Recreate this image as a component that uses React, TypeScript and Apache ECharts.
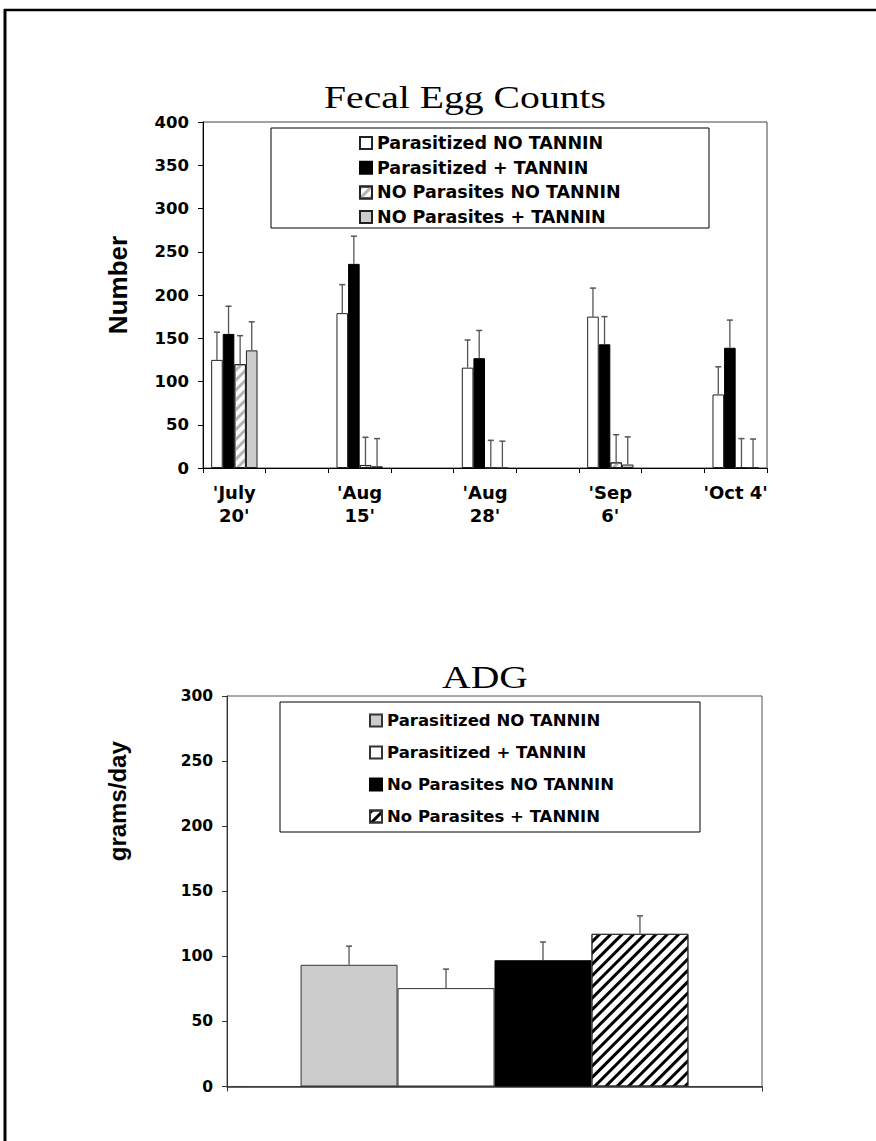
import React, { useEffect, useRef } from 'react';
import * as echarts from 'echarts';

// ---------- Fecal Egg Counts data ----------
const fecalDates = ["'July\n20'", "'Aug\n15'", "'Aug\n28'", "'Sep\n6'", "'Oct 4'"];
const fecalNames = ['Parasitized NO TANNIN', 'Parasitized + TANNIN', 'NO Parasites NO TANNIN', 'NO Parasites + TANNIN'];
const fecalParasitizedNoTannin = [125, 179, 116, 175, 85];
const fecalParasitizedTannin = [155, 236, 127, 143, 139];
const fecalNoParasitesNoTannin = [120, 3.5, 0, 6.5, 1];
const fecalNoParasitesTannin = [136, 2, 0, 4, 0.5];
const fecalErrParasitizedNoTannin = [32, 33, 32, 33, 32];
const fecalErrParasitizedTannin = [32, 32, 32, 32, 32];
const fecalErrNoParasitesNoTannin = [33, 32, 32, 32, 33];
const fecalErrNoParasitesTannin = [33, 32, 31, 32, 33];
const fecalYMax = 400;
const fecalYStep = 50;

// ---------- ADG data ----------
const adgNames = ['Parasitized NO TANNIN', 'Parasitized + TANNIN', 'No Parasites NO TANNIN', 'No Parasites + TANNIN'];
const adgValues = [93.5, 75.6, 97, 117.3];
const adgErrors = [14.3, 14.6, 14, 13.8];
const adgYMax = 300;
const adgYStep = 50;

const SANS = 'DejaVu Sans';
const ARIAL = 'Liberation Sans, Arial, sans-serif';
const SERIF = 'Liberation Serif, Times New Roman, serif';

function errorSeries(points: number[][], pos: number, n: number, gap: number, color: string) {
  return {
    type: 'custom',
    silent: true,
    z: 5,
    data: points,
    encode: { x: 0, y: 1 },
    renderItem: (params: any, api: any) => {
      const x = api.value(0);
      const v = api.value(1);
      const e = api.value(2);
      const p0 = api.coord([x, v]);
      const p1 = api.coord([x, v + e]);
      const band = api.size([1, 0])[0];
      const bw = (band * (1 - gap)) / n;
      const cx = p0[0] + (pos - (n - 1) / 2) * bw;
      return {
        type: 'group',
        children: [
          { type: 'line', shape: { x1: cx, y1: p0[1], x2: cx, y2: p1[1] }, style: { stroke: color, lineWidth: 1.3 } },
          { type: 'line', shape: { x1: cx - 3, y1: p1[1], x2: cx + 3, y2: p1[1] }, style: { stroke: color, lineWidth: 1.5 } },
        ],
      };
    },
  };
}

function buildFecalOption() {
  // categories with an empty slot between consecutive dates
  const categories: string[] = [];
  const idx: number[] = [];
  fecalDates.forEach((d, i) => {
    idx.push(categories.length);
    categories.push(d);
    if (i < fecalDates.length - 1) categories.push('');
  });
  const expand = (vals: number[]) => {
    const out: (number | null)[] = categories.map(() => null);
    vals.forEach((v, i) => (out[idx[i]] = v));
    return out;
  };
  const gap = 0.26;
  const values = [fecalParasitizedNoTannin, fecalParasitizedTannin, fecalNoParasitesNoTannin, fecalNoParasitesTannin];
  const errs = [fecalErrParasitizedNoTannin, fecalErrParasitizedTannin, fecalErrNoParasitesNoTannin, fecalErrNoParasitesTannin];
  const styles: any[] = [
    { color: '#ffffff', borderColor: '#222', borderWidth: 1 },
    { color: '#000000', borderColor: '#000', borderWidth: 1 },
    {
      color: '#ffffff', borderColor: '#222', borderWidth: 1,
      decal: { symbol: 'rect', symbolSize: 1, dashArrayX: [1, 0], dashArrayY: [2.5, 4], rotation: -Math.PI / 4, color: '#b4b4b4', backgroundColor: '#ffffff' },
    },
    { color: '#cccccc', borderColor: '#222', borderWidth: 1 },
  ];
  const bars = values.map((vals, s) => ({
    type: 'bar',
    name: fecalNames[s],
    data: expand(vals),
    barGap: '0%',
    barCategoryGap: gap * 100 + '%',
    itemStyle: styles[s],
    z: 2,
  }));
  const errSeries = values.map((vals, s) =>
    errorSeries(vals.map((v, i) => [idx[i], v, errs[s][i]]), s, 4, gap, '#555')
  );
  return {
    animation: false,
    grid: { left: 203, top: 122, width: 564, height: 346, show: true, borderColor: '#444', borderWidth: 1, backgroundColor: 'transparent' },
    legend: {
      orient: 'vertical', left: 359, top: 134, padding: 0,
      itemWidth: 12, itemHeight: 12, itemGap: 6.7, icon: 'rect',
      data: fecalNames,
      textStyle: { fontFamily: SANS, fontWeight: 'bold', fontSize: 17.5, lineHeight: 16, color: '#000' },
      selectedMode: false,
    },
    xAxis: {
      type: 'category', data: categories,
      axisLine: { lineStyle: { color: '#000', width: 1 } },
      axisTick: { show: true, length: 5, lineStyle: { color: '#000' } },
      axisLabel: { interval: 0, margin: 13, fontFamily: SANS, fontWeight: 'bold', fontSize: 18, lineHeight: 23, color: '#000' },
    },
    yAxis: {
      type: 'value', min: 0, max: fecalYMax, interval: fecalYStep,
      name: 'Number', nameLocation: 'middle', nameGap: 72,
      nameTextStyle: { fontFamily: ARIAL, fontWeight: 'bold', fontSize: 26, color: '#000', padding: [0, 0, 0, 20] },
      axisLine: { show: true, lineStyle: { color: '#000', width: 1 } },
      axisTick: { show: true, length: 5, lineStyle: { color: '#000' } },
      axisLabel: { margin: 14, fontFamily: SANS, fontWeight: 'bold', fontSize: 16.5, color: '#000' },
      splitLine: { show: false },
    },
    graphic: [
      { type: 'line', shape: { x1: 4, y1: 10, x2: 876, y2: 10 }, style: { stroke: '#000', lineWidth: 2.5 } },
      { type: 'line', shape: { x1: 5, y1: 9, x2: 5, y2: 570 }, style: { stroke: '#000', lineWidth: 3 } },
      { type: 'text', x: 465, y: 97, scaleX: 1.24, style: { text: 'Fecal Egg Counts', font: `32px ${SERIF}`, fill: '#000', textAlign: 'center', textVerticalAlign: 'middle' } },
      { type: 'rect', z: 3, shape: { x: 271, y: 128, width: 438, height: 100 }, style: { fill: '#fff', stroke: '#000', lineWidth: 1 } },
    ],
    series: [...bars, ...errSeries],
  };
}

function buildAdgOption() {
  const gap = 0.275;
  const styles: any[] = [
    { color: '#cccccc', borderColor: '#333', borderWidth: 1 },
    { color: '#ffffff', borderColor: '#333', borderWidth: 1 },
    { color: '#000000', borderColor: '#000', borderWidth: 1 },
    {
      color: '#ffffff', borderColor: '#333', borderWidth: 1,
      decal: { symbol: 'rect', symbolSize: 1, dashArrayX: [1, 0], dashArrayY: [3, 5], rotation: -Math.PI / 4, color: '#000000', backgroundColor: '#ffffff' },
    },
  ];
  const bars = adgValues.map((v, s) => ({
    type: 'bar', name: adgNames[s], data: [v], barGap: '0%', barCategoryGap: gap * 100 + '%', itemStyle: styles[s], z: 2,
  }));
  const errSeries = adgValues.map((v, s) => errorSeries([[0, v, adgErrors[s]]], s, 4, gap, '#555'));
  return {
    animation: false,
    grid: { left: 227, top: 126, width: 535, height: 390.5, show: true, borderColor: '#555', borderWidth: 1 },
    legend: {
      orient: 'vertical', left: 369, top: 142, padding: 0,
      itemWidth: 12, itemHeight: 12, itemGap: 15, icon: 'rect',
      data: adgNames,
      textStyle: { fontFamily: SANS, fontWeight: 'bold', fontSize: 16.5, lineHeight: 16, color: '#000' },
      selectedMode: false,
    },
    xAxis: {
      type: 'category', data: [''],
      axisLine: { lineStyle: { color: '#333', width: 1.5 } },
      axisTick: { show: true, length: 5, lineStyle: { color: '#333' } },
      axisLabel: { show: false },
    },
    yAxis: {
      type: 'value', min: 0, max: adgYMax, interval: adgYStep,
      name: 'grams/day', nameLocation: 'middle', nameGap: 98,
      nameTextStyle: { fontFamily: ARIAL, fontWeight: 'bold', fontSize: 24, color: '#000', padding: [0, 0, 0, 180] },
      axisLine: { show: true, lineStyle: { color: '#333', width: 1 } },
      axisTick: { show: true, length: 5, lineStyle: { color: '#333' } },
      axisLabel: { margin: 14, fontFamily: SANS, fontWeight: 'bold', fontSize: 15.5, color: '#000' },
      splitLine: { show: false },
    },
    graphic: [
      { type: 'line', shape: { x1: 5, y1: 0, x2: 5, y2: 571 }, style: { stroke: '#000', lineWidth: 3 } },
      { type: 'text', x: 485, y: 107, scaleX: 1.24, style: { text: 'ADG', font: `32px ${SERIF}`, fill: '#000', textAlign: 'center', textVerticalAlign: 'middle' } },
      { type: 'rect', z: 3, shape: { x: 280, y: 132, width: 420, height: 130 }, style: { fill: '#fff', stroke: '#000', lineWidth: 1 } },
    ],
    series: [...bars, ...errSeries],
  };
}

export default function App() {
  const topRef = useRef<HTMLDivElement>(null);
  const botRef = useRef<HTMLDivElement>(null);
  useEffect(() => {
    const c1 = echarts.init(topRef.current!, undefined, { renderer: 'svg' });
    c1.setOption(buildFecalOption() as any);
    const c2 = echarts.init(botRef.current!, undefined, { renderer: 'svg' });
    c2.setOption(buildAdgOption() as any);
    return () => {
      c1.dispose();
      c2.dispose();
    };
  }, []);
  return (
    <div style={{ position: 'absolute', left: 0, top: 0, width: 876, height: 1141, background: '#fff' }}>
      <div ref={topRef} style={{ position: 'absolute', left: 0, top: 0, width: 876, height: 570 }} />
      <div ref={botRef} style={{ position: 'absolute', left: 0, top: 570, width: 876, height: 571 }} />
    </div>
  );
}
